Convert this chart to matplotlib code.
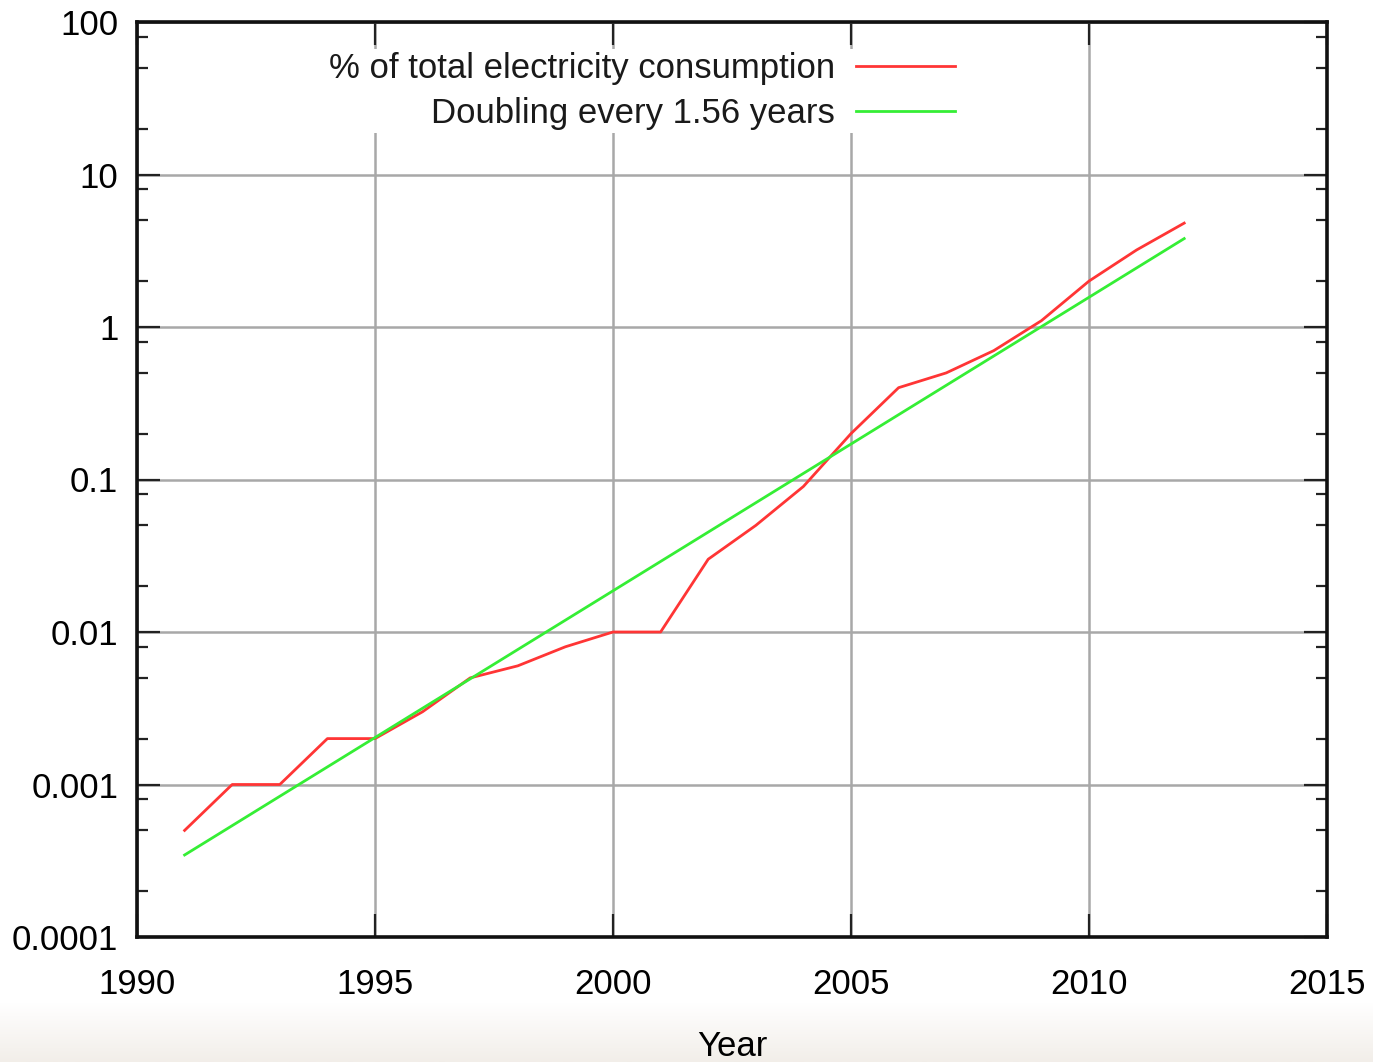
import numpy as np
import matplotlib
matplotlib.use("Agg")
import matplotlib.pyplot as plt
import matplotlib.ticker as mticker

# data
years = [1991, 1992, 1993, 1994, 1995, 1996, 1997, 1998, 1999, 2000, 2001,
         2002, 2003, 2004, 2005, 2006, 2007, 2008, 2009, 2010, 2011, 2012]
share = [0.0005, 0.001, 0.001, 0.002, 0.002, 0.003, 0.005, 0.006, 0.008, 0.01, 0.01,
         0.03, 0.05, 0.09, 0.2, 0.4, 0.5, 0.7, 1.1, 2.0, 3.2, 4.8]
fit_years = [1991, 2012]
fit_vals = [0.000345, 3.8]

x_ticks = [1990, 1995, 2000, 2005, 2010, 2015]
y_ticks = [0.0001, 0.001, 0.01, 0.1, 1, 10, 100]
y_labels = ["0.0001", "0.001", "0.01", "0.1", "1", "10", "100"]

RED = "#ff3535"
GREEN = "#35ee35"
GRID = "#a8a8a8"

plt.rcParams.update({
    "font.family": ["Liberation Sans", "DejaVu Sans"],
    "font.size": 25,
    "text.color": "#1a1a1a",
})

fig = plt.figure(figsize=(13.73, 10.62), dpi=100)

# soft beige gradient at the very bottom of the picture
gax = fig.add_axes([0, 0, 1, 60 / 1062], zorder=-1)
grad = np.linspace(1, 0, 50).reshape(-1, 1)
top = np.array([1.0, 1.0, 1.0])
bot = np.array([0xf2, 0xee, 0xe9]) / 255
img = grad[..., None] * top + (1 - grad[..., None]) * bot
gax.imshow(img, aspect="auto", extent=[0, 1, 0, 1])
gax.axis("off")

ax = fig.add_axes([137 / 1373, 1 - 937 / 1062, (1327 - 137) / 1373, (937 - 22) / 1062])
ax.set_facecolor("white")

ax.plot(years, share, color=RED, lw=2.0, label="% of total electricity consumption", zorder=3)
ax.plot(fit_years, fit_vals, color=GREEN, lw=2.0, label="Doubling every 1.56 years", zorder=3)

ax.set_yscale("log")
ax.set_xlim(1990, 2015)
ax.set_ylim(0.0001, 100)
ax.set_xticks(x_ticks)
ax.set_xticklabels([str(t) for t in x_ticks])
ax.set_yticks(y_ticks)
ax.set_yticklabels(y_labels)
ax.yaxis.set_minor_locator(mticker.LogLocator(base=10, subs=[2, 5, 8], numticks=20))
ax.yaxis.set_minor_formatter(mticker.NullFormatter())
ax.xaxis.set_minor_locator(mticker.NullLocator())

ax.tick_params(which="major", direction="in", length=16.5, width=1.6, color="#222222",
               top=True, right=True, labelsize=25)
ax.tick_params(axis="y", which="major", pad=13.5)
ax.tick_params(axis="x", which="major", pad=22)
ax.tick_params(which="minor", direction="in", length=8, width=1.6, color="#222222",
               top=True, right=True)

ax.grid(True, which="major", color=GRID, lw=1.8, zorder=1)
for s in ax.spines.values():
    s.set_linewidth(2.6)
    s.set_color("#111111")

ax.set_xlabel("Year", fontsize=25, labelpad=21.5)

leg = ax.legend(loc="upper right", bbox_to_anchor=((958 - 137) / 1190, 1 - 27 / 915),
                markerfirst=False, frameon=True, fancybox=False, framealpha=1,
                edgecolor="none", facecolor="white", fontsize=25,
                handlelength=2.85, handletextpad=0.6, labelspacing=0.33,
                borderpad=0.1, borderaxespad=0)
leg.set_zorder(2.2)

fig.savefig("out.png", dpi=100)
